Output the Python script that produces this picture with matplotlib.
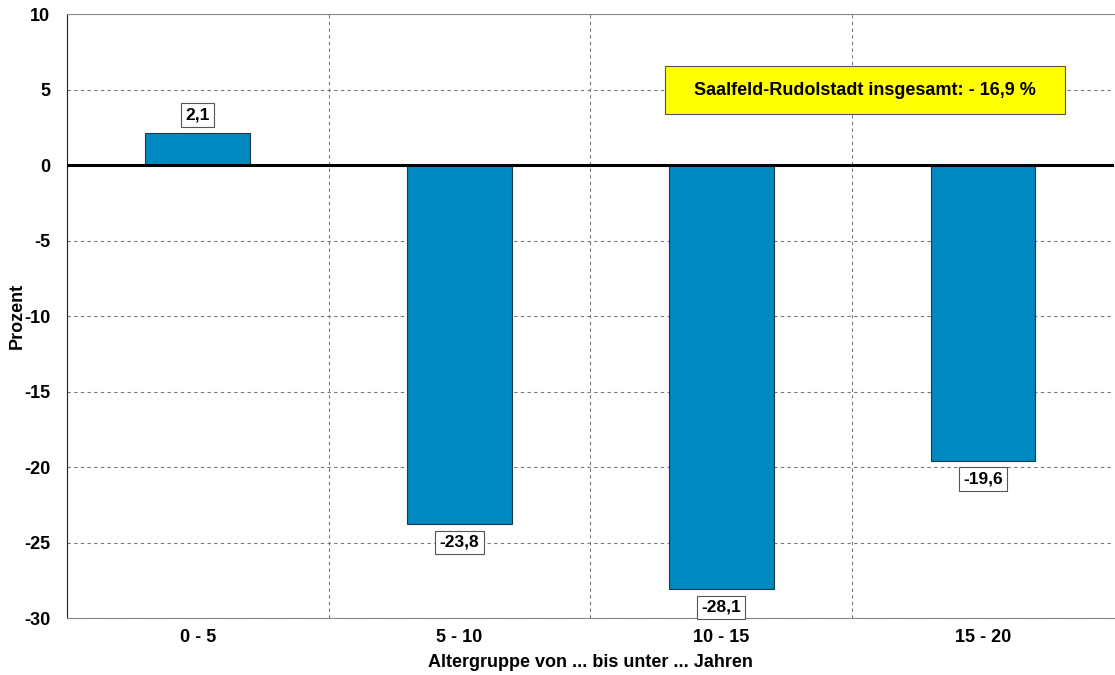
import matplotlib
matplotlib.use('Agg')
import matplotlib.pyplot as plt
from matplotlib.patches import Rectangle
import numpy as np

matplotlib.rcParams['font.family'] = ['Liberation Sans', 'DejaVu Sans']
matplotlib.rcParams['font.weight'] = 'bold'
matplotlib.rcParams['axes.unicode_minus'] = False

groups = ['0 - 5', '5 - 10', '10 - 15', '15 - 20']
werte = [2.1, -23.8, -28.1, -19.6]
gesamt = -16.9

fig = plt.figure(figsize=(11.15, 6.75), dpi=100)
ax = fig.add_axes([0.060, 0.0844, 0.939, 0.8948])

x = np.arange(len(groups))
ax.bar(x, werte, width=0.4, color='#0088c0', edgecolor='#1a3a4a', linewidth=0.8, zorder=3)

# Datenbeschriftung
for xi, v in zip(x, werte):
    off = 13 if v >= 0 else -13
    ax.annotate(f'{v:.1f}'.replace('.', ','), (xi, v), xytext=(0, off),
                textcoords='offset points', ha='center', va='center',
                fontsize=12.5, fontweight='bold', zorder=5,
                bbox=dict(boxstyle='square,pad=0.25', fc='white', ec='#555555', lw=0.8))

ax.set_xlim(-0.5, 3.5)
ax.set_ylim(-30, 10)
ax.set_yticks(range(-30, 11, 5))
ax.set_xticks(x)
ax.set_xticklabels(groups)
ax.set_xticks(x[:-1] + 0.5, minor=True)
ax.tick_params(which='both', length=0, labelsize=13, pad=8)
ax.tick_params(axis='y', pad=12)

ax.grid(axis='y', which='major', color='#777777', linestyle=(0, (3, 3)), linewidth=0.8, zorder=0)
ax.grid(axis='x', which='minor', color='#777777', linestyle=(0, (3, 3)), linewidth=0.8, zorder=0)
ax.axhline(0, color='black', linewidth=2.2, zorder=4)

for s in ['top', 'right', 'bottom']:
    ax.spines[s].set_color('#888888')
ax.spines['left'].set_color('#222222')
ax.spines['right'].set_visible(False)

ax.set_ylabel('Prozent', fontsize=13, fontweight='bold', labelpad=-1)
ax.set_xlabel('Altergruppe von ... bis unter ... Jahren', fontsize=13, fontweight='bold', labelpad=6)

# Gesamtwert-Box
ax.add_patch(Rectangle((0.571, 0.834), 0.382, 0.080, transform=ax.transAxes,
                       fc='#ffff00', ec='#555555', lw=0.8, zorder=6))
ax.text(0.762, 0.874, f'Saalfeld-Rudolstadt insgesamt: - {abs(gesamt):.1f} %'.replace('.', ','),
        transform=ax.transAxes, ha='center', va='center', fontsize=13,
        fontweight='bold', zorder=7)

fig.savefig('out.png', dpi=100)
